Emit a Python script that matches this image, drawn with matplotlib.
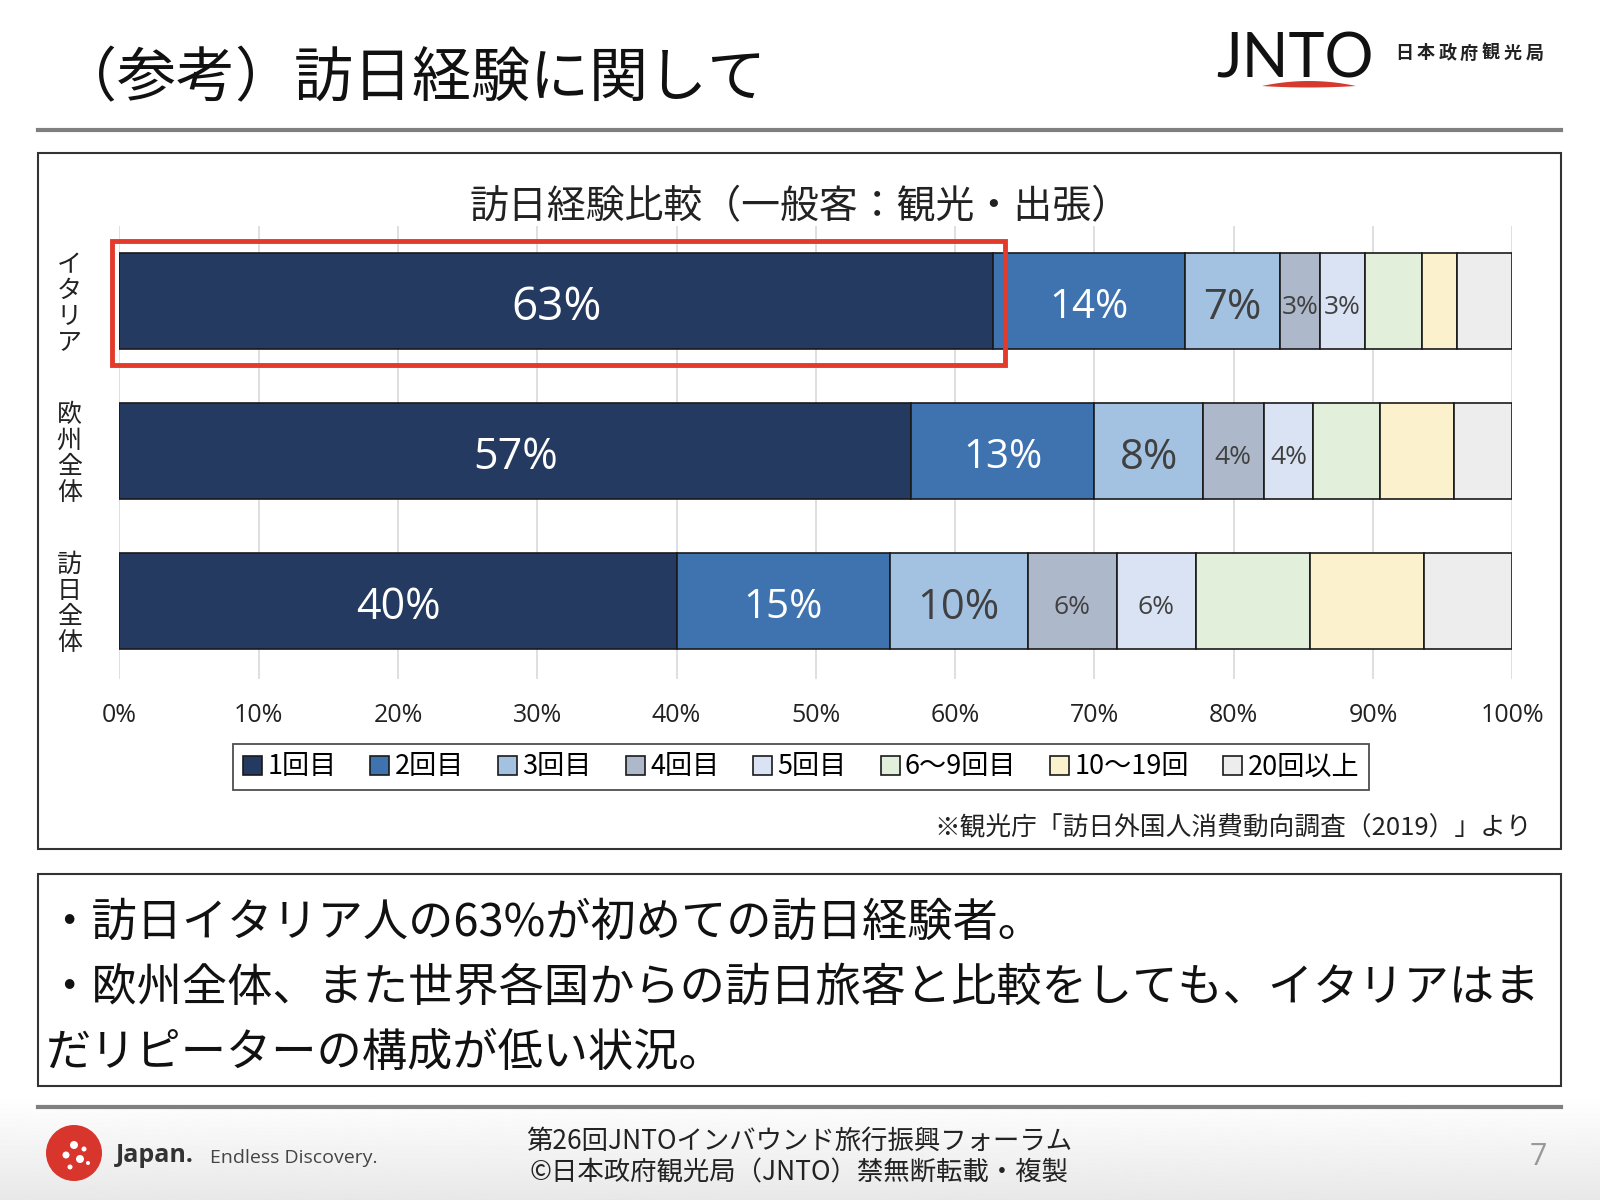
import matplotlib
matplotlib.use("Agg")
import matplotlib.pyplot as plt
import matplotlib.patches as mpatches
import numpy as np

plt.rcParams['font.family'] = ['Noto Sans CJK JP', 'DejaVu Sans']

# ---------------- data ----------------
categories = ["イタリア", "欧州全体", "訪日全体"]
series_names = ["1回目", "2回目", "3回目", "4回目", "5回目", "6～9回目", "10～19回", "20回以上"]
italy = [62.7, 13.8, 6.8, 2.9, 3.2, 4.1, 2.5, 4.0]
europe = [56.85, 13.15, 7.8, 4.35, 3.55, 4.8, 5.35, 4.15]
japan_all = [40.0, 15.3, 9.9, 6.4, 5.7, 8.2, 8.15, 6.35]
xtick_values = [0, 10, 20, 30, 40, 50, 60, 70, 80, 90, 100]
xtick_labels = ["0%", "10%", "20%", "30%", "40%", "50%", "60%", "70%", "80%", "90%", "100%"]
labelled_series = 5  # number of series that carry percent labels

colors = ["#243A60", "#3F73AF", "#A3C2E2", "#ADB9CA", "#DAE3F3", "#E2EFDA", "#FCF1CD", "#EDEDED"]
label_colors = ["white", "white", "#404040", "#404040", "#404040"]
label_sizes = [31, 29, 30, 19, 19]

W, H = 1600, 1200
fig = plt.figure(figsize=(16, 12), dpi=100)
fig.patch.set_facecolor("white")


def fx(x):
    return x / W


def fy(y):
    return 1 - y / H


# background footer gradient
bg = fig.add_axes([0, 0, 1, 1], zorder=-10)
bg.set_xlim(0, W)
bg.set_ylim(H, 0)
bg.axis("off")
grad = np.linspace(0, 1, 100).reshape(-1, 1)
bg.imshow(1 - 0.09 * grad, cmap="gray", vmin=0, vmax=1, extent=[0, W, 1200, 1095], aspect="auto")

# title
fig.text(fx(58), fy(80), "（参考）訪日経験に関して", fontsize=42.5, va="center", ha="left", color="#111111")
# title rule
bg.plot([38, 1561], [130, 130], color="#7F7F7F", lw=3)
# footer rule
bg.plot([38, 1561], [1107, 1107], color="#7F7F7F", lw=3)

# JNTO logo
fig.text(fx(1216), fy(60), "JNTO", fontsize=44, family=["Lato", "DejaVu Sans"], ha="left", va="center", color="#111111")
xs = np.linspace(1262, 1356, 60)
mid = (1262 + 1356) / 2
half = (1356 - 1262) / 2
top = 86 - 5 * (1 - ((xs - mid) / half) ** 2)
bot = 86 + 1.5 * (1 - ((xs - mid) / half) ** 2)
bg.fill(np.concatenate([xs, xs[::-1]]), np.concatenate([top, bot[::-1]]), color="#D63A2F", lw=0)
for i, ch in enumerate("日本政府観光局"):
    fig.text(fx(1404 + i * 21.7), fy(53), ch, fontsize=13, fontweight="bold", ha="center", va="center", color="#222222")

# chart frame
bg.add_patch(mpatches.Rectangle((38, 153), 1523, 696, fill=False, ec="#333333", lw=1.5))
# chart title
fig.text(fx(800), fy(207), "訪日経験比較（一般客：観光・出張）", fontsize=28, ha="center", va="center", color="#222222")

# ---------------- bar chart ----------------
ax = fig.add_axes([fx(119.4), fy(679), (1512.3 - 119.4) / W, (679 - 226) / H])
data = [italy, europe, japan_all]
ypos = np.arange(len(categories))
left = np.zeros(len(categories))
for s, name in enumerate(series_names):
    vals = np.array([row[s] for row in data])
    bars = ax.barh(ypos, vals, left=left, height=0.64, color=colors[s], edgecolor="#1A1A1A",
                   linewidth=1.2, label=name, zorder=3)
    if s < labelled_series:
        for r in range(len(categories)):
            size = label_sizes[s]
            if s == 0 and r == 0:
                size = 33
            ax.text(left[r] + vals[r] / 2, ypos[r] + 0.045, f"{round(vals[r]):d}%", ha="center", va="center",
                    fontsize=size, color=label_colors[s], family=["Open Sans", "DejaVu Sans"], zorder=4)
    left = left + vals

ax.set_xlim(0, 100)
ax.set_ylim(2.52, -0.5)
ax.set_xticks(xtick_values)
ax.set_xticklabels(xtick_labels, fontsize=18, family=["Open Sans", "DejaVu Sans"], color="#222222")
ax.tick_params(axis="x", length=0, pad=17)
ax.set_yticks([])
for sp in ax.spines.values():
    sp.set_visible(False)
ax.grid(axis="x", color="#D9D9D9", lw=1.2, zorder=0)
ax.set_axisbelow(True)
ax.patch.set_alpha(0)

# vertical category labels
for r, cat in enumerate(categories):
    ax.text(-3.6, ypos[r] + 0.02, "\n".join(cat), ha="center", va="center", fontsize=18,
            linespacing=1.0, color="#222222", clip_on=False)

# red highlight box
ax.add_patch(mpatches.Rectangle((-0.55, -0.40), 64.15, 0.83, fill=False, ec="#E33A2C", lw=3.5,
                                clip_on=False, zorder=6))

# legend
handles, labels = ax.get_legend_handles_labels()
leg = fig.legend(handles, labels, loc="center", bbox_to_anchor=(fx(801), fy(767)), ncol=8, fontsize=19.5,
                 frameon=True, fancybox=False, edgecolor="#222222", handlelength=0.7, handleheight=0.7,
                 handletextpad=0.2, columnspacing=1.25, borderpad=0.35)
leg.get_frame().set_linewidth(1.3)

# source
fig.text(fx(1532), fy(828), "※観光庁「訪日外国人消費動向調査（2019）」より", fontsize=18.5, ha="right", va="center",
         color="#222222")

# ---------------- comment box ----------------
bg.add_patch(mpatches.Rectangle((38, 874), 1523, 212, fill=False, ec="#333333", lw=1.5))
lines = ["・訪日イタリア人の63%が初めての訪日経験者。",
         "・欧州全体、また世界各国からの訪日旅客と比較をしても、イタリアはま",
         "だリピーターの構成が低い状況。"]
for i, ln in enumerate(lines):
    fig.text(fx(46), fy(923 + i * 65), ln, fontsize=32.6, ha="left", va="center", color="#111111")

# ---------------- footer ----------------
fig.text(fx(799), fy(1141), "第26回JNTOインバウンド旅行振興フォーラム", fontsize=19, ha="center", va="center",
         color="#222222")
fig.text(fx(799), fy(1173), "©日本政府観光局（JNTO）禁無断転載・複製", fontsize=19, ha="center", va="center",
         color="#222222")
fig.text(fx(1538), fy(1157), "7", fontsize=22, ha="center", va="center", color="#999999",
         family=["Open Sans", "DejaVu Sans"])
fig.text(fx(116), fy(1156), "Japan.", fontsize=18, fontweight="bold", ha="left", va="center", color="#333333",
         family=["Open Sans", "DejaVu Sans"])
fig.text(fx(210), fy(1158), "Endless Discovery.", fontsize=14, ha="left", va="center", color="#444444",
         family=["Open Sans", "DejaVu Sans"])
bg.add_patch(mpatches.Circle((74, 1153), 28, color="#D8362C", lw=0))
for (dx, dy, rr) in [(0, -8, 4), (-8, 2, 3.5), (6, 6, 4), (10, -4, 2.5), (-4, 14, 2.5), (14, 10, 2)]:
    bg.add_patch(mpatches.Circle((74 + dx, 1153 + dy), rr, color="white", lw=0))

fig.savefig("out.png", dpi=100)
